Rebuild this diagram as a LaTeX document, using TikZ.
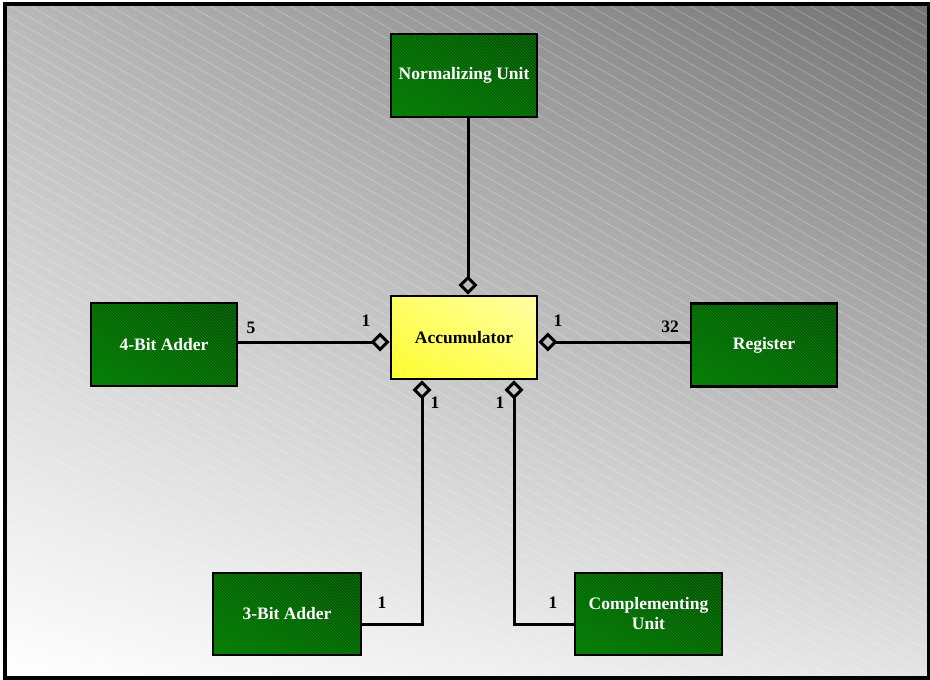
\documentclass[tikz,border=0pt]{standalone}
\usepackage{fontspec}
\setmainfont{Liberation Serif}
\usetikzlibrary{arrows.meta,patterns,shadings}

\definecolor{bgUL}{RGB}{184,184,184}
\definecolor{bgUR}{RGB}{114,114,114}
\definecolor{bgLL}{RGB}{255,255,255}
\definecolor{bgLR}{RGB}{228,228,228}
\definecolor{grnLL}{RGB}{0,128,0}
\definecolor{grnUR}{RGB}{0,72,0}
\definecolor{grnMid}{RGB}{0,100,0}
\definecolor{grnHatch}{RGB}{20,128,20}
\definecolor{ylwLL}{RGB}{255,255,0}
\definecolor{ylwUR}{RGB}{255,255,175}
\definecolor{ylwMid}{RGB}{255,255,80}
\definecolor{ylwHatch}{RGB}{255,255,150}

\begin{document}
\begin{tikzpicture}[x=1pt,y=-1pt,
  block/.style={draw=black, line width=2.8pt, minimum width=146pt,
    minimum height=83pt, inner sep=0pt, align=center,
    font=\fontsize{17.5}{20}\selectfont\bfseries},
  unit/.style={block, text=white,
    preaction={lower left=grnLL, upper right=grnUR, upper left=grnMid, lower right=grnMid},
    pattern=north west lines, pattern color=grnHatch},
  core/.style={block, text=black,
    preaction={lower left=ylwLL, upper right=ylwUR, upper left=ylwMid, lower right=ylwMid},
    pattern=north west lines, pattern color=ylwHatch},
  mult/.style={inner sep=0pt, font=\fontsize{17.5}{20}\selectfont\bfseries},
  conn/.style={line width=3pt, line join=miter,
    -{Diamond[open, length=19pt, width=19pt]}},
  hatch/.style={white, opacity=0.25, line width=0.8pt}
]
\useasboundingbox (0,0) rectangle (930,680);
\fill[white] (0,0) rectangle (930,680);

% backdrop: diagonal grey gradient with light hatching
\shade[upper left=bgUL, upper right=bgUR, lower left=bgLL, lower right=bgLR]
  (5,4) rectangle (928.5,678);
\begin{scope}
  \clip (5,4) rectangle (928.5,678);
  \foreach \i in {-1200,-1180,...,940}
    \draw[hatch] (\i,0) -- ++(1400,808);
\end{scope}
\draw[line width=3.5pt] (5,4) rectangle (928.5,678);

% blocks
\node[unit] (norm) at (464,75.5) {Normalizing Unit};
\node[core] (acc)  at (464,337.5) {Accumulator};
\node[unit] (add4) at (164,344.5) {4-Bit Adder};
\node[unit] (reg)  at (764,345) {Register};
\node[unit, minimum width=148pt, minimum height=82pt] (add3) at (287,614) {3-Bit Adder};
\node[unit, minimum width=147pt, minimum height=82pt] (comp) at (648.5,614) {Complementing\\Unit};

% aggregation links
\draw[conn] ([xshift=4pt]norm.south) -- ([xshift=4pt]acc.north);
\draw[conn] ([yshift=2.5pt]add4.east) -- ([yshift=-4.5pt]acc.west);
\draw[conn] ([yshift=3pt]reg.west) -- ([yshift=-4.5pt]acc.east);
\draw[conn] ([yshift=-10pt]add3.east) -| ([xshift=-42pt]acc.south);
\draw[conn] ([yshift=-10pt]comp.west) -| ([xshift=50pt]acc.south);

% multiplicities
\node[mult] (m4)  at (251,328) {5};
\node[mult] (mal) at (366,321) {1};
\node[mult] (mar) at (558,321) {1};
\node[mult] (mr)  at (670,327) {32};
\node[mult] (mbl) at (435,403) {1};
\node[mult] (mbr) at (500,403) {1};
\node[mult] (m3)  at (382,603) {1};
\node[mult] (mc)  at (553,603) {1};
\end{tikzpicture}
\end{document}
